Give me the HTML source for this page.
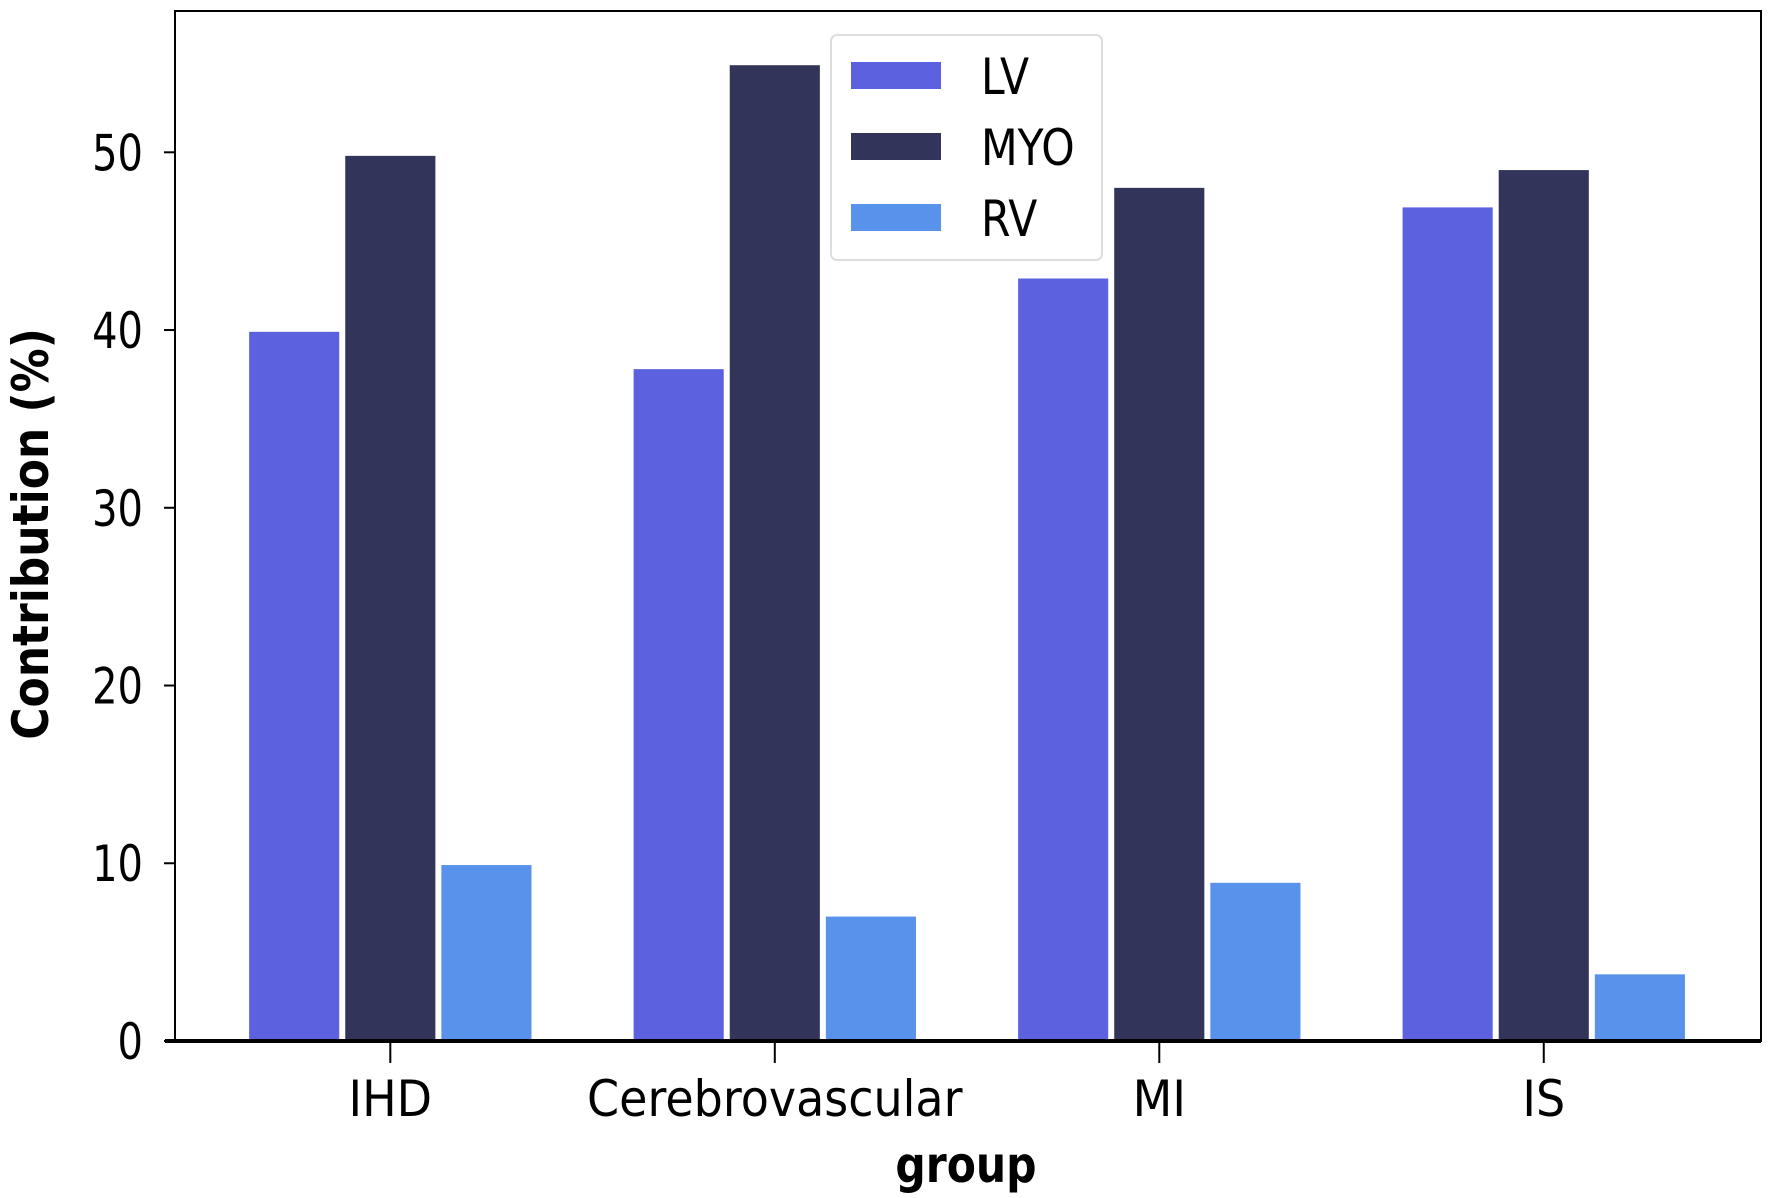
<!DOCTYPE html>
<html><head><meta charset="utf-8"><style>
html,body{margin:0;padding:0;background:#fff;}
svg{display:block;}
text{font-family:"DejaVu Sans","Liberation Sans",sans-serif;fill:#000;}
</style></head><body>
<svg id="chart" width="1772" height="1198" viewBox="0 0 1772 1198"></svg>
<script>
const categories = ["IHD","Cerebrovascular","MI","IS"];
const seriesNames = ["LV","MYO","RV"];
const lvValues = [39.9, 37.8, 42.9, 46.9];
const myoValues = [49.8, 54.9, 48.0, 49.0];
const rvValues = [9.9, 7.0, 8.9, 3.75];
const yTicks = [0,10,20,30,40,50];
const colors = ["#5c62df","#33345a","#5892ea"];

const NS="http://www.w3.org/2000/svg";
const svg=document.getElementById('chart');
const L=175,R=1761,T=11,B=1041;
const yMax=57.95;
const xMin=-0.56, xMax=3.565;
const xs=v=>L+(v-xMin)/(xMax-xMin)*(R-L);
const ys=v=>B-v/yMax*(B-T);
function el(tag,attrs,parent){const e=document.createElementNS(NS,tag);for(const k in attrs)e.setAttribute(k,attrs[k]);(parent||svg).appendChild(e);return e;}

const series=[lvValues,myoValues,rvValues];
const bw=0.25;
series.forEach((vals,si)=>{
  vals.forEach((v,ci)=>{
    const cx=ci+(si-1)*bw;
    const r=el('rect',{x:xs(cx-bw/2)+3,y:ys(v),width:xs(cx+bw/2)-xs(cx-bw/2)-6,height:ys(0)-ys(v),fill:colors[si]});
    
    
  });
});

const frame=el('rect',{x:L,y:T,width:R-L,height:B-T,fill:'none',stroke:'#000','stroke-width':2});


const xa=el('line',{x1:L-10,x2:R,y1:B,y2:B,stroke:'#000','stroke-width':4});



yTicks.forEach(t=>{
  const ln=el('line',{x1:L-11,x2:L,y1:ys(t),y2:ys(t),stroke:'#000','stroke-width':2});
  
  
  const tx=el('text',{x:L-32,y:ys(t)+18,'text-anchor':'end','font-size':50});
  tx.textContent=t;
  
  
  tx.setAttribute('transform',`translate(${L-32},0) scale(0.8,1) translate(${-(L-32)},0)`);
});
categories.forEach((c,i)=>{
  const ln=el('line',{x1:xs(i),x2:xs(i),y1:B,y2:B+22,stroke:'#000','stroke-width':2});
  
  
  const tx=el('text',{x:xs(i),y:1116,'text-anchor':'middle','font-size':50});
  tx.textContent=c;
  
  
  tx.setAttribute('transform',`translate(${xs(i)},0) scale(0.92,1) translate(${-xs(i)},0)`);
});

const xt=el('text',{x:966,y:1182,'text-anchor':'middle','font-size':50,'font-weight':'bold'});
xt.textContent='group';


xt.setAttribute('transform','translate(966,0) scale(0.85,1) translate(-966,0)');
const yt=el('text',{x:0,y:0,'text-anchor':'middle','font-size':50,'font-weight':'bold',transform:'translate(48,534) rotate(-90) scale(0.88,1)'});
yt.textContent='Contribution (%)';



const lg=el('g',{});


el('rect',{x:831,y:35,width:271,height:225,rx:6,fill:'#fff',stroke:'#ddd','stroke-width':2},lg);
seriesNames.forEach((n,i)=>{
  const y=62+i*71;
  const p=el('rect',{x:851,y:y,width:90,height:27,fill:colors[i]},lg);
  
  
  const tx=el('text',{x:981,y:y+32,'font-size':50,transform:`translate(981,0) scale(0.85,1) translate(-981,0)`},lg);
  tx.textContent=n;
  
  
});
</script>
</body></html>
